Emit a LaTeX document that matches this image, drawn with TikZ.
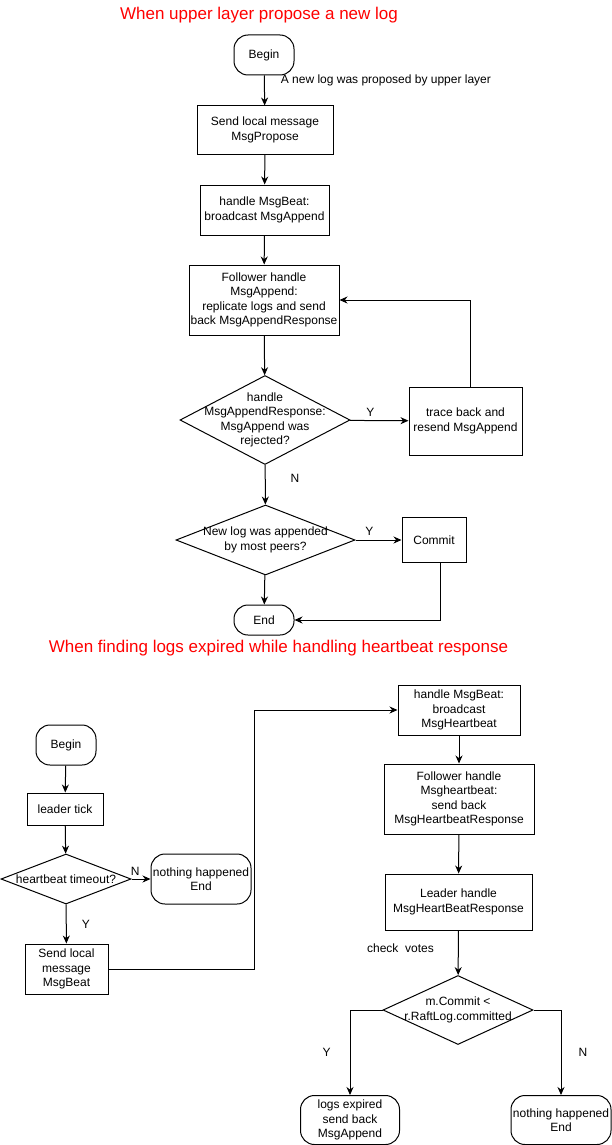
\documentclass[tikz,border=0pt]{standalone}
\usepackage{fontspec}
\setmainfont{Liberation Sans}
\usetikzlibrary{shapes.geometric,arrows.meta}

\begin{document}
\begin{tikzpicture}[x=1pt,y=-1pt,
    every node/.style={font=\fontsize{12}{14.5}\selectfont,align=center,inner sep=0pt},
    proc/.style={draw,line width=1pt},
    term/.style={draw,line width=1pt,rounded corners=14pt},
    decision/.style={draw,diamond,line width=1pt},
    heading/.style={text=red,font=\fontsize{17}{20}\selectfont},
    arr/.style={line width=1pt,-{Stealth[length=8pt,width=7pt]}},
    line/.style={line width=1pt}]
\useasboundingbox (0,0) rectangle (612,1145);

\node[heading] (title1) at (259,15) {When upper layer propose a new log};
\node[term,minimum width=60,minimum height=40] (begin1) at (264,55) {Begin};
\node[proc,minimum width=136,minimum height=48] (send1) at (265,130) {Send local message\\MsgPropose};
\node[proc,minimum width=129,minimum height=50] (beat1) at (264.5,210) {handle MsgBeat:\\broadcast MsgAppend};
\node[proc,minimum width=150,minimum height=70] (follow1) at (264,300) {Follower handle\\MsgAppend:\\replicate logs and send\\back MsgAppendResponse};
\node[decision,minimum width=170,minimum height=89,
    label={[align=center]center:handle\\MsgAppendResponse:\\MsgAppend was\\rejected?}] (check1) at (265,420) {};
\node[proc,minimum width=113,minimum height=68] (trace) at (465.5,421) {trace back and\\resend MsgAppend};
\node[decision,minimum width=179,minimum height=70,
    label={[align=center]center:New log was appended\\by most peers?}] (check2) at (265.5,540) {};
\node[proc,minimum width=64,minimum height=45] (commit) at (434,540) {Commit};
\node[term,minimum width=60,minimum height=30] (end1) at (264,620) {End};

\draw[arr] (begin1) -- (send1) node[pos=0.16,anchor=west,xshift=16pt] {A new log was proposed by upper layer};
\draw[arr] (send1) -- (beat1);
\draw[arr] (beat1) -- (follow1);
\draw[arr] (follow1) -- (check1);
\draw[arr] (check1) -- (trace) node[pos=0.35,above=4pt] {Y};
\draw[arr] ([xshift=4.5pt]trace.north) |- (follow1.east);
\draw[arr] (check1) -- (check2) node[pos=0.35,right=25pt] {N};
\draw[arr] (check2) -- (commit) node[pos=0.3,above=4pt] {Y};
\draw[arr] (check2) -- (end1);
\draw[arr] ([xshift=6pt]commit.south) |- (end1.east);

\node[heading] (title2) at (278.5,648) {When finding logs expired while handling heartbeat response};
\node[term,minimum width=60,minimum height=40] (begin2) at (66,745) {Begin};
\node[proc,minimum width=76,minimum height=32] (tick) at (65,809) {leader tick};
\node[decision,minimum width=130,minimum height=50,
    label={center:heartbeat timeout?}] (timeout) at (66,879) {};
\node[term,minimum width=100,minimum height=50] (nothing1) at (201,879) {nothing happened\\End};
\node[proc,minimum width=83,minimum height=50] (send2) at (66.5,969) {Send local\\message\\MsgBeat};
\coordinate (turn) at (254,710);
\node[proc,minimum width=122,minimum height=50] (beat2) at (459,710) {handle MsgBeat:\\broadcast\\MsgHeartbeat};
\node[proc,minimum width=150,minimum height=70] (follow2) at (459,799) {Follower handle\\Msgheartbeat:\\send back\\MsgHeartbeatResponse};
\node[proc,minimum width=147,minimum height=56] (leader) at (458.5,902) {Leader handle\\MsgHeartBeatResponse};
\node[decision,minimum width=150,minimum height=69,
    label={[align=center]center:m.Commit <\\r.RaftLog.committed}] (check3) at (458,1010) {};
\node[term,minimum width=99,minimum height=49] (expired) at (350,1120) {logs expired\\send back\\MsgAppend};
\node[term,minimum width=100,minimum height=49] (nothing2) at (561,1120) {nothing happened\\End};

\draw[arr] (begin2) -- (tick);
\draw[arr] (tick) -- (timeout);
\draw[arr] (timeout) -- (nothing1) node[pos=0.2,above=3pt] {N};
\draw[arr] (timeout) -- (send2) node[midway,right=15pt] {Y};
\draw[line] (send2.east) -| (turn);
\draw[arr] (turn) -- (beat2.west);
\draw[arr] (beat2) -- (follow2);
\draw[arr] (follow2) -- (leader);
\draw[arr] (leader) -- (check3) node[pos=0.4,left=24pt] {check\ \ votes};
\draw[arr] (check3.west) -| (expired.north) node[pos=0.75,left=19pt] {Y};
\draw[arr] (check3.east) -| (nothing2.north) node[pos=0.75,right=17pt] {N};
\end{tikzpicture}
\end{document}
